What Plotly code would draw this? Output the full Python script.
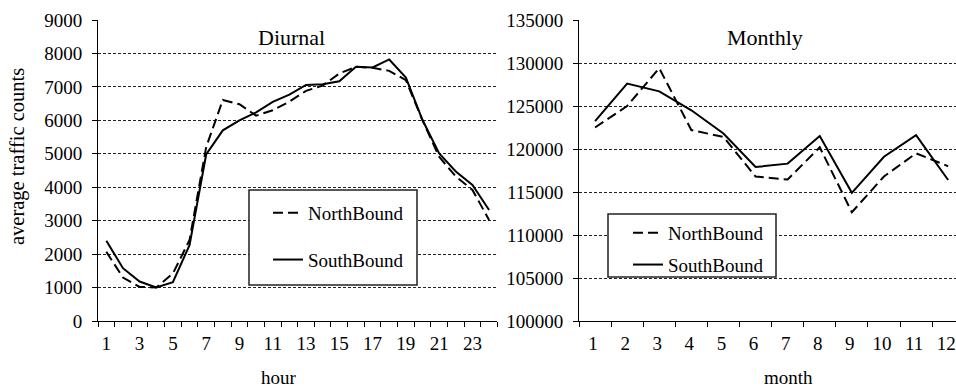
import plotly.graph_objects as go

# ---- data ----
hours = list(range(1, 25))
north_hourly = [2070, 1300, 1020, 1000, 1420, 2420, 5200, 6610, 6480, 6140, 6300, 6560,
                6880, 7040, 7400, 7600, 7570, 7480, 7200, 6000, 4910, 4320, 3920, 3020]
south_hourly = [2400, 1580, 1180, 1000, 1160, 2270, 4980, 5700, 6000, 6240, 6550, 6770,
                7060, 7080, 7170, 7600, 7580, 7820, 7280, 6010, 5010, 4470, 4070, 3320]
hour_ticks = list(range(1, 24, 2))
hour_ticktext = [str(h) for h in hour_ticks]

months = list(range(1, 13))
north_monthly = [122500, 125000, 129400, 122200, 121400, 116800, 116450, 120200, 112650, 116800, 119500, 118000]
south_monthly = [123250, 127600, 126700, 124500, 121800, 117900, 118300, 121500, 114900, 119100, 121600, 116400]
month_ticktext = [str(m) for m in months]

FONT = "Liberation Serif"
W, H = 956, 390

def px(x):
    return x / W

def py(y):
    return 1 - y / H

fig = go.Figure()

dash_n = "10px,5px"
fig.add_trace(go.Scatter(x=hours, y=north_hourly, mode="lines", name="NorthBound",
                         line=dict(color="black", width=2, dash=dash_n),
                         xaxis="x", yaxis="y", legend="legend", legendgroup="n1"))
fig.add_trace(go.Scatter(x=hours, y=south_hourly, mode="lines", name="SouthBound",
                         line=dict(color="black", width=2),
                         xaxis="x", yaxis="y", legend="legend", legendgroup="s1"))
fig.add_trace(go.Scatter(x=months, y=north_monthly, mode="lines", name="NorthBound",
                         line=dict(color="black", width=2, dash=dash_n),
                         xaxis="x2", yaxis="y2", legend="legend2", legendgroup="n2"))
fig.add_trace(go.Scatter(x=months, y=south_monthly, mode="lines", name="SouthBound",
                         line=dict(color="black", width=2),
                         xaxis="x2", yaxis="y2", legend="legend2", legendgroup="s2"))

tickfont = dict(family=FONT, size=19, color="black")
ydom = [69 / H, 370 / H]

common_x = dict(showgrid=False, zeroline=False, showline=True, linecolor="black", linewidth=1,
                ticks="", tickfont=tickfont, automargin=False, fixedrange=True,
                ticklabelstandoff=5, ticklabeloverflow="allow",
                minor=dict(tickmode="linear", tick0=0.5, dtick=1, ticks="outside",
                           ticklen=5, tickcolor="black", tickwidth=1, showgrid=False))
common_y = dict(showgrid=True, gridcolor="#222222", gridwidth=1, griddash="3px,2px",
                zeroline=False, showline=True, linecolor="black", linewidth=1,
                ticks="outside", ticklen=5, tickcolor="black", tickfont=tickfont,
                automargin=False, fixedrange=True, ticklabelstandoff=6)

fig.update_layout(
    width=W, height=H,
    margin=dict(l=0, r=0, t=0, b=0),
    paper_bgcolor="white", plot_bgcolor="white",
    font=dict(family=FONT, color="black"),
    xaxis=dict(domain=[px(98), px(497.4)], range=[0.5, 24.5], tickmode="array",
               tickvals=hour_ticks, ticktext=hour_ticktext, anchor="y", **common_x),
    yaxis=dict(domain=ydom, range=[0, 9000], dtick=1000, tick0=0, anchor="x", **common_y),
    xaxis2=dict(domain=[px(579), 1], range=[0.5, 0.5 + (956 - 579) / 32.1], tickmode="array",
                tickvals=months, ticktext=month_ticktext, anchor="y2", ticklabelshift=-2,
                **common_x),
    yaxis2=dict(domain=ydom, range=[100000, 135000], dtick=5000, tick0=100000,
                tickformat="d", anchor="x2", **common_y),
    legend=dict(x=px(268), y=py(194), xanchor="left", yanchor="top",
                bgcolor="rgba(0,0,0,0)", borderwidth=0, tracegroupgap=19,
                font=dict(family=FONT, size=19, color="black")),
    legend2=dict(x=px(628), y=py(214), xanchor="left", yanchor="top",
                 bgcolor="rgba(0,0,0,0)", borderwidth=0, tracegroupgap=4,
                 font=dict(family=FONT, size=19, color="black")),
    shapes=[
        dict(type="rect", xref="paper", yref="paper", x0=px(249), x1=px(417),
             y0=py(285), y1=py(190), fillcolor="white", line=dict(color="#222222", width=1.5),
             layer="above"),
        dict(type="rect", xref="paper", yref="paper", x0=px(608), x1=px(776),
             y0=py(277), y1=py(214), fillcolor="white", line=dict(color="#222222", width=1.5),
             layer="above"),
    ],
    annotations=[
        dict(text="Diurnal", x=px(291), y=py(38), xref="paper", yref="paper",
             showarrow=False, font=dict(family=FONT, size=22, color="black"),
             xanchor="center", yanchor="middle"),
        dict(text="Monthly", x=px(765), y=py(38), xref="paper", yref="paper",
             showarrow=False, font=dict(family=FONT, size=22, color="black"),
             xanchor="center", yanchor="middle"),
        dict(text="hour", x=px(279), y=0, xref="paper", yref="paper",
             showarrow=False, font=dict(family=FONT, size=19, color="black"),
             xanchor="center", yanchor="bottom"),
        dict(text="month", x=px(788), y=0, xref="paper", yref="paper",
             showarrow=False, font=dict(family=FONT, size=19, color="black"),
             xanchor="center", yanchor="bottom"),
        dict(text="average traffic counts", x=px(17), y=py(157), xref="paper", yref="paper",
             showarrow=False, textangle=-90, font=dict(family=FONT, size=20.5, color="black"),
             xanchor="center", yanchor="middle"),
    ],
)

fig.write_html("out.html", config={"displayModeBar": False})
